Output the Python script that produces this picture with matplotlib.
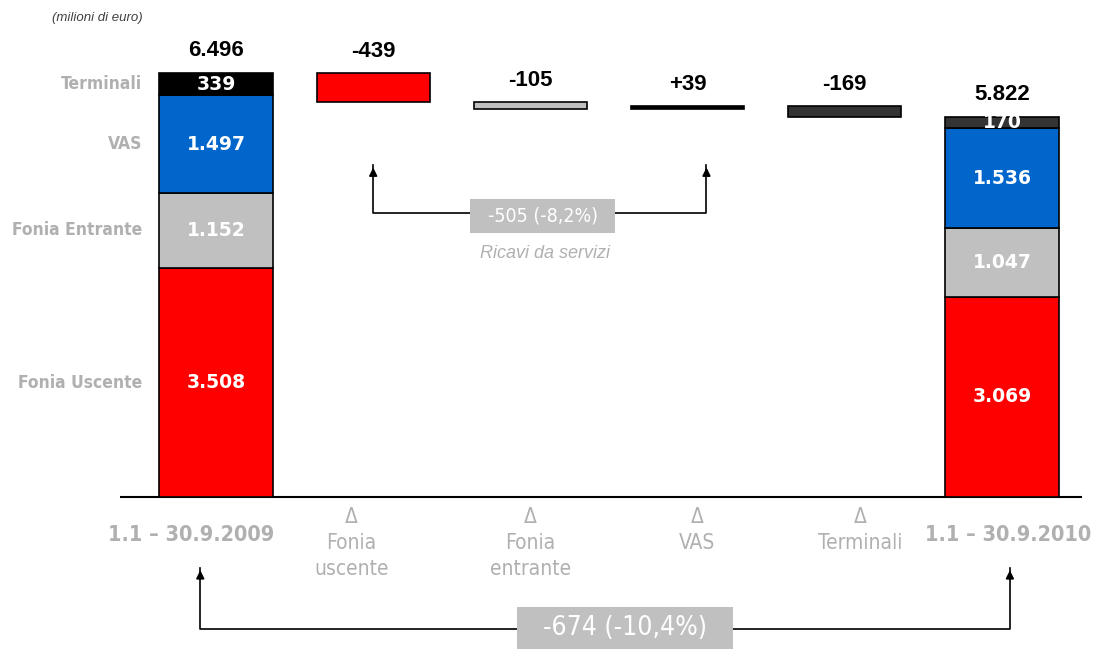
import numpy as np
import matplotlib
matplotlib.use("Agg")
import matplotlib.pyplot as plt
from matplotlib.patches import Rectangle

# dati (milioni di euro)
categories = ['1.1 – 30.9.2009', 'Δ\nFonia\nuscente', 'Δ\nFonia\nentrante',
              'Δ\nVAS', 'Δ\nTerminali', '1.1 – 30.9.2010']
segments = ['Fonia Uscente', 'Fonia Entrante', 'VAS', 'Terminali']
values_2009 = [3508, 1152, 1497, 339]
values_2010 = [3069, 1047, 1536, 170]
deltas = [-439, -105, 39, -169]
delta_labels = ['-439', '-105', '+39', '-169']
services_change = '-505 (-8,2%)'
total_change = '-674 (-10,4%)'

seg_colors_2009 = ['#ff0000', '#c0c0c0', '#0066cc', '#000000']
seg_colors_2010 = ['#ff0000', '#c0c0c0', '#0066cc', '#333333']
delta_colors = ['#ff0000', '#c0c0c0', '#000000', '#333333']
grey_txt = '#b0b0b0'
cond = dict(family='DejaVu Sans', stretch='condensed')


def fmt(v):
    return f'{v:,}'.replace(',', '.')


fig = plt.figure(figsize=(10.94, 6.49), dpi=100)
ax = fig.add_axes([0, 0, 1, 1])
ax.set_xlim(-1.374, 5.585)
ax.set_ylim(-2329, 7615)
ax.axis('off')

x = np.arange(len(categories))
w = 0.72

# colonne iniziale e finale
for xi, vals, cols in [(x[0], values_2009, seg_colors_2009), (x[-1], values_2010, seg_colors_2010)]:
    bottoms = np.concatenate([[0], np.cumsum(vals)[:-1]])
    ax.bar(xi, vals, w, bottom=bottoms, color=cols, edgecolor='black', linewidth=1.2, zorder=3)
    for v, b in zip(vals, bottoms):
        ax.text(xi, b + v / 2, fmt(v), ha='center', va='center', color='white',
                fontsize=13.5, fontweight='bold', zorder=4)
    ax.annotate(fmt(sum(vals)), (xi, sum(vals)), xytext=(0, 9), textcoords='offset points',
                ha='center', va='bottom', fontsize=16, fontweight='bold',
                family='Liberation Sans')

# righe a sinistra
bottoms = np.concatenate([[0], np.cumsum(values_2009)[:-1]])
for name, v, b in zip(segments, values_2009, bottoms):
    ax.text(-0.47, b + v / 2, name, ha='right', va='center', color=grey_txt,
            fontsize=12.5, fontweight='bold', **cond)

# barre delta (waterfall)
level = sum(values_2009)
for xi, d, lab, c in zip(x[1:-1], deltas, delta_labels, delta_colors):
    new = level + d
    bot = min(level, new)
    ax.bar(xi, abs(d), w, bottom=bot, color=c, edgecolor='black', linewidth=1.2, zorder=3)
    ax.annotate(lab, (xi, bot + abs(d)), xytext=(0, 8), textcoords='offset points',
                ha='center', va='bottom', fontsize=16, fontweight='bold',
                family='Liberation Sans')
    level = new

# asse
ax.hlines(0, -0.61, 5.51, color='black', linewidth=1.5, zorder=2)

# etichette categorie
shift = [-0.16, -0.14, 0.0, 0.06, 0.10, 0.04]
for xi, lab, s in zip(x, categories, shift):
    if lab.startswith('Δ'):
        ax.text(xi + s, -150, lab, ha='center', va='top', color=grey_txt, fontsize=15,
                linespacing=1.38, **cond)
    else:
        ax.text(xi + s, -582, lab, ha='center', va='center', color=grey_txt, fontsize=15.5,
                fontweight='bold', **cond)

# parentesi ricavi da servizi
ax.plot([1.0, 1.0, 3.12, 3.12], [5080, 4350, 4350, 5080], color='black', lw=1.2, zorder=2)
for xa in [1.0, 3.12]:
    ax.annotate('', xy=(xa, 5090), xytext=(xa, 4900),
                arrowprops=dict(arrowstyle='-|>', color='black', lw=1.2, mutation_scale=12))
ax.add_patch(Rectangle((1.616, 4045), 0.922, 521, fc='#c0c0c0', ec='none', zorder=4))
ax.text(2.077, 4300, services_change, ha='center', va='center', color='white', fontsize=14,
        zorder=5, **cond)
ax.text(2.09, 3738, 'Ricavi da servizi', ha='center', va='center', color=grey_txt,
        fontsize=13, style='italic', family='Liberation Sans')

# parentesi totale
ax.plot([-0.10, -0.10, 5.05, 5.05], [-1090, -2020, -2020, -1090], color='black', lw=1.2, zorder=2)
for xa in [-0.10, 5.05]:
    ax.annotate('', xy=(xa, -1080), xytext=(xa, -1300),
                arrowprops=dict(arrowstyle='-|>', color='black', lw=1.2, mutation_scale=12))
ax.add_patch(Rectangle((1.915, -2400), 1.374, 715, fc='#c0c0c0', ec='none', zorder=4))
ax.text(2.6, -2010, total_change, ha='center', va='center', color='white', fontsize=19,
        zorder=5, **cond)

fig.text(0.0475, 0.972, '(milioni di euro)', ha='left', va='center', fontsize=9.5,
         style='italic', color='#404040', family='Liberation Sans')

fig.savefig('out.png', dpi=100)
